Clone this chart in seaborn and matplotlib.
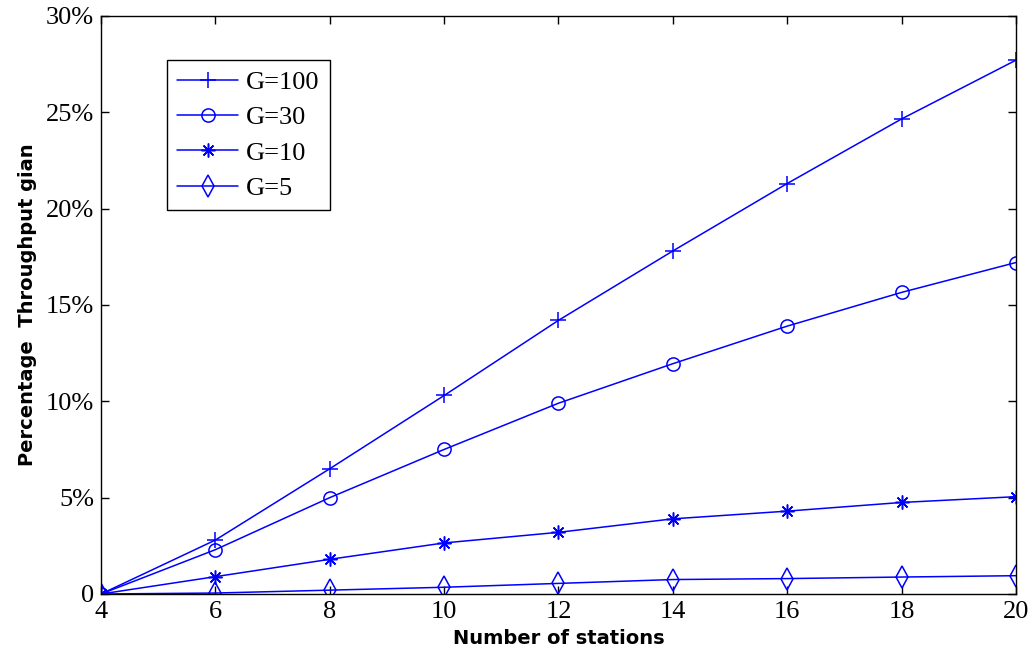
import matplotlib
matplotlib.use("Agg")
import matplotlib.pyplot as plt
from matplotlib.ticker import FuncFormatter
import seaborn as sns
import pandas as pd

stations = [4, 6, 8, 10, 12, 14, 16, 18, 20]
gain_g100 = [0.0, 2.8, 6.5, 10.3, 14.2, 17.8, 21.3, 24.65, 27.7]
gain_g30 = [0.0, 2.3, 5.0, 7.5, 9.9, 11.95, 13.9, 15.65, 17.2]
gain_g10 = [0.0, 0.9, 1.8, 2.65, 3.2, 3.9, 4.3, 4.75, 5.05]
gain_g5 = [0.0, 0.05, 0.2, 0.35, 0.55, 0.75, 0.8, 0.88, 0.95]
series_labels = ["G=100", "G=30", "G=10", "G=5"]
x_ticks = [4, 6, 8, 10, 12, 14, 16, 18, 20]
y_ticks = [0, 5, 10, 15, 20, 25, 30]

sns.set_theme(style="ticks")
plt.rcParams["font.family"] = ["Liberation Serif", "DejaVu Serif"]
plt.rcParams["text.color"] = "black"
plt.rcParams["axes.labelcolor"] = "black"

fig = plt.figure(figsize=(10.35, 6.6), dpi=100)
ax = fig.add_axes([0.0976, 0.1, 0.884, 0.876])

# plus, circle, eight-armed asterisk, narrow diamond
markers = ["+", "o", (8, 2, 0), "d"]
sizes = [12, 9.5, 10, 11]
for vals, lab, mk, ms in zip([gain_g100, gain_g30, gain_g10, gain_g5],
                             series_labels, markers, sizes):
    df = pd.DataFrame({"x": stations, "y": vals})
    sns.lineplot(data=df, x="x", y="y", ax=ax, color="#0000ff", linewidth=1.1,
                 marker=mk, markersize=ms, markerfacecolor="none",
                 markeredgecolor="#0000ff", markeredgewidth=1.1, label=lab)

ax.set_xlim(4, 20)
ax.set_ylim(0, 30)
ax.set_xticks(x_ticks)
ax.set_yticks(y_ticks)
ax.yaxis.set_major_formatter(FuncFormatter(lambda v, p: "0" if v == 0 else f"{v:g}%"))

for side in ["top", "right", "bottom", "left"]:
    ax.spines[side].set_visible(True)
    ax.spines[side].set_color("black")
    ax.spines[side].set_linewidth(1.0)
ax.tick_params(direction="in", length=6, width=1.0, top=True, right=True,
               labelsize=19, colors="black", labelcolor="black", pad=5)

label_font = dict(fontsize=14, fontweight="bold", family=["DejaVu Sans"], color="black")
ax.set_xlabel("Number of stations", labelpad=4, **label_font)
ax.set_ylabel("Percentage  Throughput gian", labelpad=6, **label_font)

leg = ax.legend(loc="upper left", bbox_to_anchor=(0.072, 0.924), borderaxespad=0,
                fancybox=False, edgecolor="black", framealpha=1, fontsize=19,
                handlelength=2.3, handletextpad=0.3, labelspacing=0.45,
                borderpad=0.4)
leg.get_frame().set_linewidth(1.0)
for t in leg.get_texts():
    t.set_color("black")

fig.savefig("out.png", dpi=100, facecolor="white")
